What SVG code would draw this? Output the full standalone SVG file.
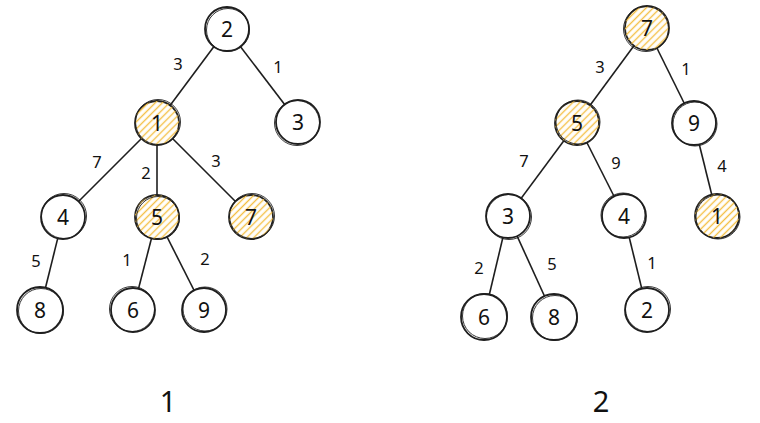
<svg xmlns="http://www.w3.org/2000/svg" width="760" height="423" viewBox="0 0 760 423">
<defs>
<pattern id="hatch" patternUnits="userSpaceOnUse" width="5" height="5" patternTransform="rotate(-45)">
<line x1="0" y1="2.5" x2="5" y2="2.5" stroke="#f4bf45" stroke-width="1.4"/>
</pattern>
<style>
.n circle.a{fill:#fff;stroke:#1e1e1e;stroke-width:1.8}
.n circle.b{fill:none;stroke:#1e1e1e;stroke-width:0.9}
.n.h circle.f{fill:url(#hatch);stroke:none}
.n text{font-family:"Noto Sans","Open Sans",sans-serif;font-size:21px;fill:#111;text-anchor:middle;dominant-baseline:central}
.e line{stroke:#1e1e1e;stroke-width:1.6}
.e text{font-family:"Noto Sans","Open Sans",sans-serif;font-size:16.5px;fill:#111;text-anchor:middle;dominant-baseline:central}
.t{font-family:"Noto Sans","Open Sans",sans-serif;font-size:29px;fill:#111;text-anchor:middle;dominant-baseline:central}
</style>
</defs>
<rect width="760" height="423" fill="#fff"/>
<g id="edges" class="e">
<line x1="227" y1="29" x2="157" y2="123"/>
<line x1="227" y1="29" x2="298" y2="122"/>
<line x1="157" y1="123" x2="63" y2="217" stroke-width="1.1"/>
<line x1="157" y1="123" x2="157" y2="217"/>
<line x1="157" y1="123" x2="251" y2="217"/>
<line x1="63" y1="217" x2="40" y2="310"/>
<line x1="157" y1="217" x2="133" y2="310"/>
<line x1="157" y1="217" x2="204" y2="310"/>
<text x="178" y="63">3</text>
<text x="278" y="66">1</text>
<text x="97" y="161">7</text>
<text x="146" y="172">2</text>
<text x="216" y="160">3</text>
<text x="36" y="260">5</text>
<text x="127" y="259">1</text>
<text x="205" y="258">2</text>
<line x1="647" y1="28" x2="577" y2="123"/>
<line x1="647" y1="28" x2="694" y2="123"/>
<line x1="577" y1="123" x2="508" y2="216"/>
<line x1="577" y1="123" x2="624" y2="216"/>
<line x1="694" y1="123" x2="717" y2="216"/>
<line x1="508" y1="216" x2="484" y2="317"/>
<line x1="508" y1="216" x2="554" y2="317" stroke-width="1.1"/>
<line x1="624" y1="216" x2="647" y2="310"/>
<text x="600" y="66">3</text>
<text x="686" y="68">1</text>
<text x="524" y="160">7</text>
<text x="616" y="162">9</text>
<text x="722" y="165">4</text>
<text x="479" y="267">2</text>
<text x="552" y="263">5</text>
<text x="652" y="262">1</text>
</g>
<g id="L2" class="n"><circle class="a" cx="227" cy="29" r="22"/><circle class="b" cx="228" cy="30" r="21.5"/><text x="227" y="29">2</text></g>
<g id="L3" class="n"><circle class="a" cx="298" cy="122" r="22"/><circle class="b" cx="297" cy="123" r="22.5"/><text x="298" y="122">3</text></g>
<g id="L1" class="n h"><circle class="a" cx="157" cy="123" r="22"/><circle class="f" cx="157" cy="123" r="22"/><circle class="b" cx="158" cy="122" r="22.5"/><text x="157" y="123">1</text></g>
<g id="L4" class="n"><circle class="a" cx="63" cy="217" r="22"/><circle class="b" cx="64" cy="216" r="22.5"/><text x="63" y="217">4</text></g>
<g id="L5" class="n h"><circle class="a" cx="157" cy="217" r="22"/><circle class="f" cx="157" cy="217" r="22"/><circle class="b" cx="158" cy="218" r="21.5"/><text x="157" y="217">5</text></g>
<g id="L7" class="n h"><circle class="a" cx="251" cy="217" r="22"/><circle class="f" cx="251" cy="217" r="22"/><circle class="b" cx="252" cy="216" r="22.5"/><text x="251" y="217">7</text></g>
<g id="L8" class="n"><circle class="a" cx="40" cy="310" r="23"/><circle class="b" cx="41" cy="311" r="22.5"/><text x="40" y="310">8</text></g>
<g id="L6" class="n"><circle class="a" cx="133" cy="310" r="22"/><circle class="b" cx="132" cy="309" r="22.5"/><text x="133" y="310">6</text></g>
<g id="L9" class="n"><circle class="a" cx="204" cy="310" r="22"/><circle class="b" cx="205" cy="309" r="22"/><text x="204" y="310">9</text></g>
<g id="R7" class="n h"><circle class="a" cx="647" cy="28" r="22"/><circle class="f" cx="647" cy="28" r="22"/><circle class="b" cx="646" cy="29" r="22.5"/><text x="647" y="28">7</text></g>
<g id="R5" class="n h"><circle class="a" cx="577" cy="123" r="22"/><circle class="f" cx="577" cy="123" r="22"/><circle class="b" cx="578" cy="122" r="22"/><text x="577" y="123">5</text></g>
<g id="R9" class="n"><circle class="a" cx="694" cy="123" r="22"/><circle class="b" cx="695" cy="124" r="22"/><text x="694" y="123">9</text></g>
<g id="R3" class="n"><circle class="a" cx="508" cy="216" r="22"/><circle class="b" cx="509" cy="217" r="22.5"/><text x="508" y="216">3</text></g>
<g id="R4" class="n"><circle class="a" cx="624" cy="216" r="22"/><circle class="b" cx="623" cy="215" r="22"/><text x="624" y="216">4</text></g>
<g id="R1" class="n h"><circle class="a" cx="717" cy="216" r="22"/><circle class="f" cx="717" cy="216" r="22"/><circle class="b" cx="718" cy="217" r="22"/><text x="717" y="216">1</text></g>
<g id="R6" class="n"><circle class="a" cx="484" cy="317" r="23"/><circle class="b" cx="485" cy="316" r="22.5"/><text x="484" y="317">6</text></g>
<g id="R8" class="n"><circle class="a" cx="554" cy="317" r="23"/><circle class="b" cx="555" cy="318" r="22.5"/><text x="554" y="317">8</text></g>
<g id="R2" class="n"><circle class="a" cx="647" cy="310" r="22"/><circle class="b" cx="648" cy="309" r="22.5"/><text x="647" y="310">2</text></g>
<text class="t" x="168" y="400">1</text>
<text class="t" x="601" y="400">2</text>
</svg>
